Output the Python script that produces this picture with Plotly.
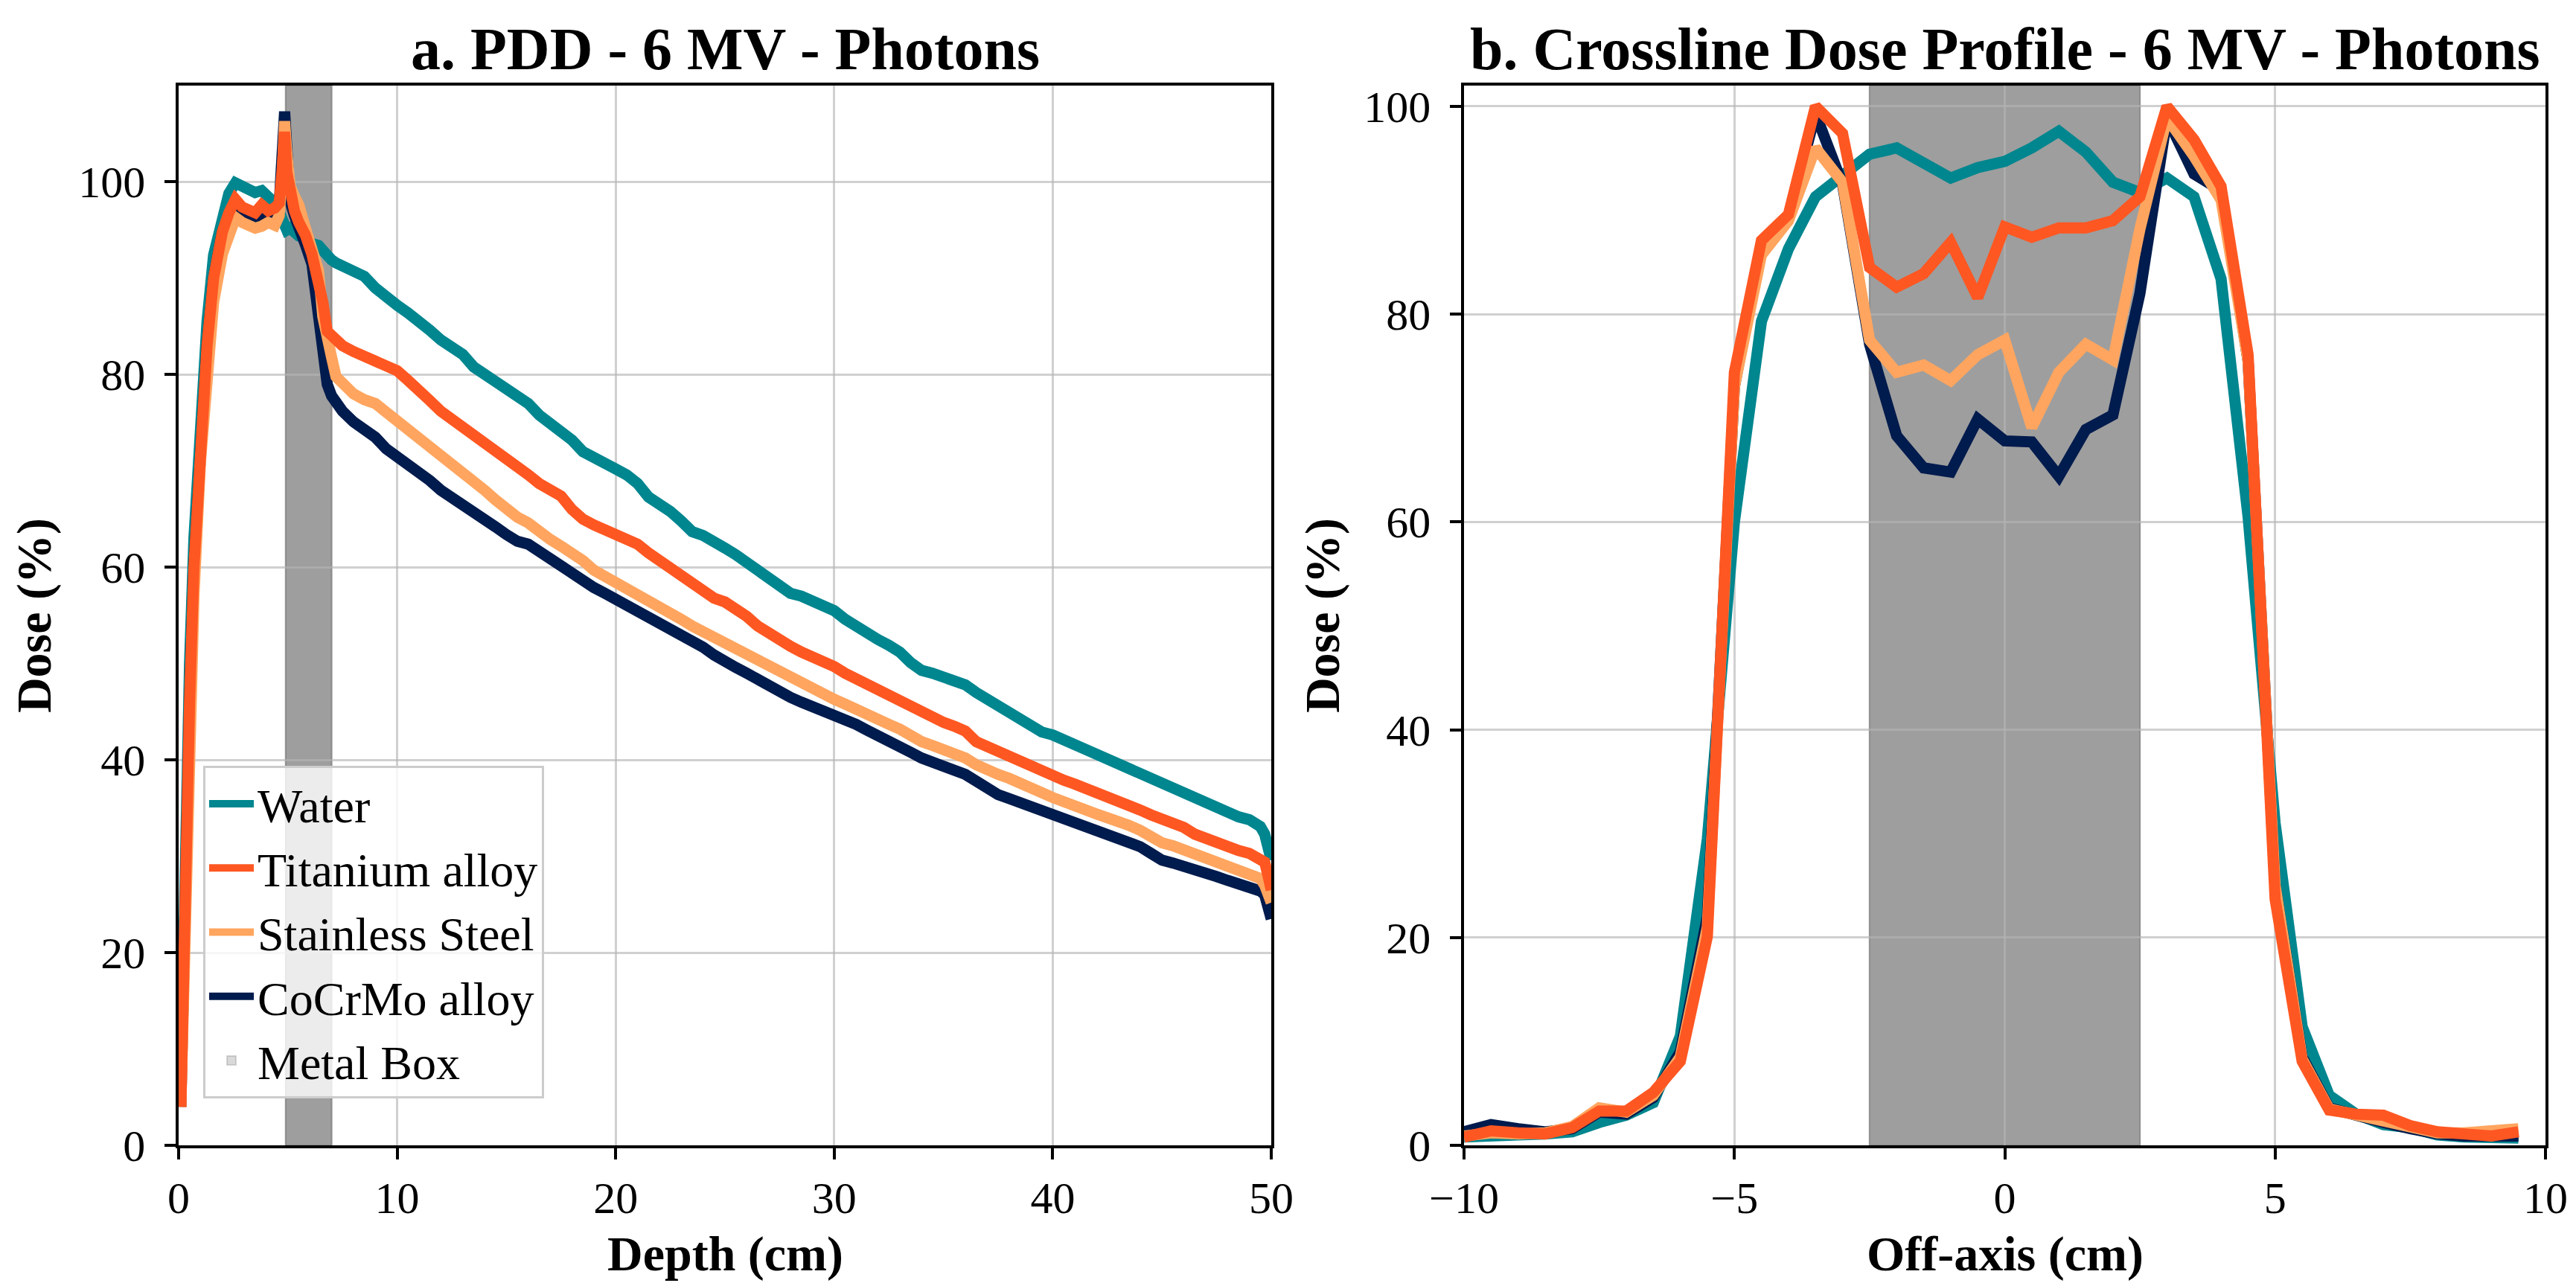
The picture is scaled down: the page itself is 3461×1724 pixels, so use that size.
import plotly.graph_objects as go

FONT = "Liberation Serif"

# ---- a. PDD data (depth in cm, dose in %) ----
depth = [0.1, 0.3, 0.5, 0.7, 1.0, 1.3, 1.6, 2.0, 2.3, 2.6, 2.9, 3.2, 3.5, 3.8, 4.1, 4.4,
         4.6, 4.75, 4.85, 4.95, 5.1, 5.3, 5.5, 5.8, 6.1, 6.4, 6.6, 6.8, 7.0, 7.2, 7.5,
         8.0, 8.5, 9.0, 9.5, 10.0, 10.5, 11.0, 11.5, 12.0, 12.5,
         13.0, 13.5, 14.0, 14.5, 15.0, 15.5, 16.0, 16.5, 17.0, 17.5,
         18.0, 18.5, 19.0, 19.5, 20.0, 20.5, 21.0, 21.5, 22.0, 22.5,
         23.0, 23.5, 24.0, 24.5, 25.0, 25.5, 26.0, 26.5, 27.0, 27.5,
         28.0, 28.5, 29.0, 29.5, 30.0, 30.5, 31.0, 31.5, 32.0, 32.5,
         33.0, 33.5, 34.0, 34.5, 35.0, 35.5, 36.0, 36.5, 37.0, 37.5,
         38.0, 38.5, 39.0, 39.5, 40.0, 40.5, 41.0, 41.5, 42.0, 42.5,
         43.0, 43.5, 44.0, 44.5, 45.0, 45.5, 46.0, 46.5, 47.0, 47.5,
         48.0, 48.5, 49.0, 49.5,
         49.7, 49.85, 50.0]

pdd_water = [6, 32, 50, 63, 77, 85.5, 92.4, 96.8, 98.8, 99.9, 99.5, 99.2, 98.9, 99.1, 98.6, 97.8,
             96.9, 96.0, 95.4, 95.0, 95.2, 94.8, 94.4, 94.2, 93.6, 93.4, 92.8, 92.2, 91.9, 91.6, 91.3,
             90.9, 90.2, 89.0, 87.9, 87.2, 86.4, 85.6, 84.6, 83.6, 83.0,
             82.1, 80.8, 80.0, 79.2, 78.6, 77.8, 77.0, 75.8, 75.0, 74.1,
             73.2, 72.0, 71.3, 70.6, 70.2, 69.6, 68.7, 67.3, 66.6, 65.8,
             64.8, 63.7, 63.3, 62.8, 62.0, 61.3, 60.5, 59.6, 58.8, 58.0,
             57.3, 57.0, 56.5, 55.7, 55.5, 54.6, 53.8, 53.2, 52.5, 51.9,
             51.2, 50.1, 49.3, 49.0, 48.6, 48.2, 47.8, 47.0, 46.3, 45.4,
             44.8, 44.0, 43.4, 42.9, 42.6, 42.1, 41.6, 40.9, 40.5, 40.1,
             39.6, 39.1, 38.6, 38.0, 37.6, 37.0, 36.5, 35.9, 35.4, 34.9,
             34.5, 34.1, 33.8, 33.1,
             32.3, 31.0, 29.6]

pdd_titanium = [4.0, 28, 46, 60, 74, 83, 90, 94.8, 96.8, 98.2, 97.4, 97.0, 96.8, 97.6, 97.0, 97.3,
                97.8, 101.5, 105.2, 101.0, 98.5, 97.0, 95.8, 94.5, 92.5, 90.0, 87.5, 84.5, 84.0, 83.6, 83.0,
                82.4, 81.9, 81.4, 81.0, 80.4, 79.4, 78.5, 77.3, 76.2, 75.4,
                74.6, 73.8, 72.9, 72.3, 71.5, 70.4, 69.6, 68.7, 68.2, 67.4,
                66.0, 65.0, 64.4, 63.9, 63.6, 63.1, 62.4, 61.5, 60.7, 59.9,
                59.1, 58.3, 57.4, 56.8, 56.4, 55.8, 54.9, 53.9, 53.1, 52.4,
                51.8, 51.2, 50.8, 50.2, 49.7, 49.0, 48.4, 47.9, 47.3, 46.8,
                46.2, 45.5, 44.9, 44.4, 43.9, 43.5, 43.0, 41.9, 41.4, 40.9,
                40.3, 39.6, 39.1, 38.6, 38.3, 37.9, 37.5, 37.1, 36.7, 36.1,
                35.6, 35.2, 34.8, 34.3, 33.9, 33.5, 33.0, 32.3, 31.8, 31.4,
                31.0, 30.6, 30.3, 29.8,
                29.4, 28.0, 26.5]

pdd_steel = [4, 25, 43, 57, 71, 80, 87.5, 92.5, 94.8, 96.3, 95.8, 95.5, 95.2, 95.4, 95.8, 95.5,
             96.5, 101.0, 106.3, 103.0, 99.6, 98.5, 97.6, 95.2, 93.0, 90.8, 86.0, 83.2, 81.8, 79.8, 79.0,
             78.0, 77.4, 77.0, 76.1, 75.2, 74.3, 73.4, 72.6, 71.7, 70.8,
             70.1, 69.2, 68.0, 67.0, 66.0, 65.2, 64.6, 63.6, 62.9, 62.2,
             61.5, 60.7, 59.7, 59.1, 58.5, 57.7, 57.0, 56.5, 55.9, 55.3,
             54.6, 53.9, 53.3, 52.7, 52.3, 51.5, 50.8, 50.3, 49.7, 49.1,
             48.6, 48.0, 47.5, 46.8, 46.3, 45.8, 45.2, 44.6, 44.1, 43.7,
             43.2, 42.5, 41.9, 41.5, 41.1, 40.6, 40.2, 39.5, 38.9, 38.5,
             38.1, 37.5, 37.0, 36.6, 36.1, 35.6, 35.1, 34.8, 34.4, 34.0,
             33.7, 33.2, 32.7, 32.0, 31.4, 31.1, 30.7, 30.3, 29.9, 29.6,
             29.2, 28.8, 28.4, 27.7,
             27.0, 26.0, 25.2]

pdd_cocrmo = [4, 28, 46, 60, 74, 83, 90, 94.8, 96.5, 97.5, 97.0, 96.5, 96.2, 96.5, 96.6, 96.8,
              97.5, 102.0, 107.3, 103.5, 98.0, 96.5, 95.0, 93.5, 91.5, 86.0, 81.5, 79.0, 77.8, 77.0, 76.2,
              75.1, 74.3, 73.5, 72.3, 71.5, 70.7, 70.0, 69.0, 68.0, 67.3,
              66.6, 65.9, 65.0, 64.2, 63.4, 62.7, 62.4, 61.6, 60.8, 60.1,
              59.3, 58.7, 57.9, 57.3, 56.7, 56.1, 55.5, 54.9, 54.2, 53.5,
              53.0, 52.4, 51.7, 50.9, 50.1, 49.6, 49.0, 48.3, 47.8, 47.1,
              46.5, 46.0, 45.6, 45.1, 44.7, 44.2, 43.7, 43.1, 42.6, 42.0,
              41.5, 40.8, 40.2, 39.8, 39.4, 38.9, 38.5, 37.8, 37.0, 36.4,
              36.0, 35.6, 35.3, 34.8, 34.4, 34.0, 33.5, 33.1, 32.7, 32.2,
              31.8, 31.4, 31.0, 30.3, 29.6, 29.3, 29.0, 28.6, 28.2, 27.9,
              27.5, 27.2, 26.8, 26.4,
              26.0, 24.0, 23.5]

# ---- b. crossline profile data (off-axis in cm, dose in %) ----
off_axis = [-10.0, -9.5, -9.0, -8.5, -8.0, -7.5, -7.0, -6.5, -6.0, -5.5,
            -5.0, -4.5, -4.0, -3.5, -3.0, -2.5, -2.0, -1.5, -1.0, -0.5,
            0.0, 0.5, 1.0, 1.5, 2.0, 2.5, 3.0, 3.5, 4.0, 4.5,
            5.0, 5.5, 6.0, 6.5, 7.0, 7.5, 8.0, 8.5, 9.0, 9.5]

prof_water = [0.8, 0.8, 1.0, 1.1, 1.3, 2.2, 2.9, 4.1, 10.5, 29.5,
              60.0, 79.3, 86.3, 91.3, 93.5, 95.4, 96.0, 94.5, 93.1, 94.1,
              94.7, 96.0, 97.6, 95.6, 92.7, 91.7, 93.1, 91.3, 83.4, 60.5,
              31.0, 11.4, 4.8, 3.0, 2.0, 1.7, 1.0, 0.8, 0.8, 0.7]

prof_titanium = [0.8, 1.4, 1.2, 1.1, 1.7, 3.3, 3.3, 5.1, 8.1, 20.1,
                 74.4, 87.1, 89.6, 100.0, 97.4, 84.5, 82.6, 83.9, 86.9, 81.6,
                 88.4, 87.4, 88.3, 88.3, 89.0, 91.3, 100.0, 96.8, 92.3, 76.1,
                 23.7, 8.1, 3.4, 3.0, 2.9, 1.9, 1.3, 1.1, 0.9, 1.3]

prof_steel = [0.9, 1.2, 1.1, 1.2, 1.8, 3.6, 3.2, 4.8, 8.5, 21.0,
              73.0, 85.7, 89.0, 96.0, 92.7, 77.5, 74.4, 75.1, 73.6, 76.1,
              77.5, 69.1, 74.4, 77.1, 75.6, 88.2, 98.9, 95.2, 91.0, 75.5,
              25.0, 8.3, 3.5, 2.9, 2.5, 1.8, 1.2, 1.2, 1.3, 1.6]

prof_cocrmo = [1.3, 2.0, 1.6, 1.3, 1.6, 3.2, 3.0, 4.6, 9.0, 22.0,
               73.0, 86.8, 89.3, 99.3, 92.5, 77.1, 68.3, 65.2, 64.8, 69.9,
               67.8, 67.7, 64.4, 68.9, 70.3, 82.0, 98.9, 93.5, 91.9, 75.5,
               25.0, 8.5, 3.6, 2.8, 2.2, 1.6, 1.1, 0.9, 0.8, 0.9]

# metal box extents
box_pdd = (4.9, 7.0)
box_prof = (-2.5, 2.5)

# name, colour, legend rank, pdd, profile  (drawn in this order)
series = [
    ("Water", "#00868f", 1, pdd_water, prof_water),
    ("CoCrMo alloy", "#001b4d", 4, pdd_cocrmo, prof_cocrmo),
    ("Stainless Steel", "#ffa55f", 3, pdd_steel, prof_steel),
    ("Titanium alloy", "#ff5722", 2, pdd_titanium, prof_titanium),
]

LW = 15

fig = go.Figure()

for name, color, rank, pdd, prof in series:
    fig.add_trace(go.Scatter(x=depth, y=pdd, mode="lines", name=name,
                             line=dict(color=color, width=LW),
                             legendrank=rank, xaxis="x", yaxis="y"))
    fig.add_trace(go.Scatter(x=off_axis, y=prof, mode="lines", name=name,
                             line=dict(color=color, width=LW),
                             showlegend=False, xaxis="x2", yaxis="y2"))

# the box is laid down several times with low alpha, like stacked axvspans
for k in range(4):
    fig.add_shape(type="rect", xref="x", yref="y domain",
                  x0=box_pdd[0], x1=box_pdd[1], y0=0, y1=1,
                  fillcolor="rgba(128,128,128,0.3)",
                  line=dict(color="rgba(128,128,128,0.3)", width=2),
                  layer="below", showlegend=(k == 0), name="Metal Box",
                  legendrank=5)
    fig.add_shape(type="rect", xref="x2", yref="y2 domain",
                  x0=box_prof[0], x1=box_prof[1], y0=0, y1=1,
                  fillcolor="rgba(128,128,128,0.3)",
                  line=dict(color="rgba(128,128,128,0.3)", width=2),
                  layer="below", showlegend=False)

axis_style = dict(
    showline=True, linecolor="black", linewidth=3.5, mirror=True,
    ticks="outside", ticklen=15, tickwidth=3.5, tickcolor="black",
    showgrid=True, gridcolor="rgba(180,180,180,0.63)", gridwidth=3,
    zeroline=False,
    tickfont=dict(family=FONT, size=60, color="black"),
)
title_font = dict(family=FONT, size=66, color="black", weight="bold")

W, H = 3461, 1724
ydom = [(H - 1531) / H, (H - 107) / H]
left_dom = [232 / W, 1700 / W]
right_dom = [1959 / W, 3412 / W]


def label(text, x, y, size, angle=0):
    return dict(text=text, xref="paper", yref="paper", x=x, y=y,
                xanchor="center", yanchor="middle", showarrow=False,
                textangle=angle,
                font=dict(family=FONT, size=size, color="black", weight="bold"))


fig.update_layout(
    width=W, height=H,
    margin=dict(l=0, r=0, t=0, b=0, autoexpand=False),
    plot_bgcolor="white", paper_bgcolor="white",
    font=dict(family=FONT, color="black"),
    xaxis=dict(axis_style, domain=left_dom, range=[0, 50],
               tick0=0, dtick=10, anchor="y"),
    yaxis=dict(axis_style, domain=ydom, range=[0, 110], tick0=0, dtick=20,
               anchor="x", ticklabelstandoff=14,
               title=dict(text="Dose (%)", font=title_font, standoff=16)),
    xaxis2=dict(axis_style, domain=right_dom, range=[-10, 10],
                tick0=-10, dtick=5, anchor="y2"),
    yaxis2=dict(axis_style, domain=ydom, range=[0, 102], tick0=0, dtick=20,
                anchor="x2", ticklabelstandoff=14,
                title=dict(text="Dose (%)", font=title_font, standoff=12)),
    legend=dict(x=265 / W, y=(H - 1021) / H, xanchor="left", yanchor="top",
                bgcolor="rgba(255,255,255,0.8)", bordercolor="#cccccc",
                borderwidth=3, font=dict(family=FONT, size=64, color="black"),
                traceorder="normal", tracegroupgap=0, itemwidth=60),
    annotations=[
        label("a. PDD - 6 MV - Photons", sum(left_dom) / 2, 1 - 58 / H, 80),
        label("b. Crossline Dose Profile - 6 MV - Photons",
              sum(right_dom) / 2, 1 - 58 / H, 80),
        label("Depth (cm)", sum(left_dom) / 2, 1 - 1677 / H, 66),
        label("Off-axis (cm)", sum(right_dom) / 2, 1 - 1677 / H, 66),
    ],
)

fig.write_html("out.html")
